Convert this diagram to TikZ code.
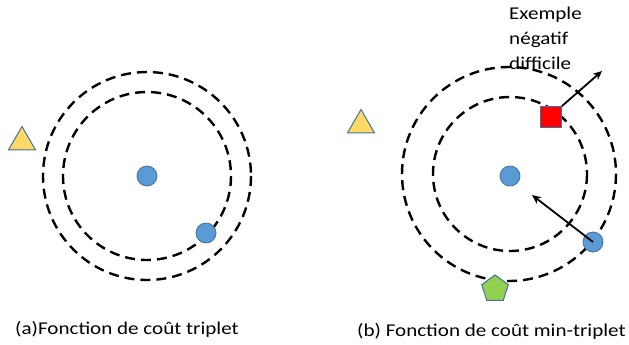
\documentclass[tikz,border=0pt]{standalone}
\usepackage{fontspec}
\setmainfont{Carlito}
\newfontfamily\capfont[FakeStretch=1.17]{Carlito}
\usetikzlibrary{shapes.geometric,arrows.meta}
\definecolor{dotblue}{HTML}{5B9BD5}
\definecolor{edgeblue}{HTML}{41719C}
\definecolor{triyellow}{HTML}{FFD966}
\definecolor{pentgreen}{HTML}{92D050}
\tikzset{
  ring/.style={draw=black, line width=2.4bp, dash pattern=on 10bp off 6bp},
  dot/.style={circle, fill=dotblue, draw=edgeblue, line width=0.8bp, minimum size=20bp, inner sep=0pt},
  tri/.style={regular polygon, regular polygon sides=3, fill=triyellow, draw=edgeblue, line width=1bp, minimum size=31bp, inner sep=0pt},
  pent/.style={regular polygon, regular polygon sides=5, fill=pentgreen, draw=edgeblue, line width=1bp, minimum size=28bp, inner sep=0pt},
  sq/.style={rectangle, fill=red, draw=edgeblue, line width=0.8bp, minimum size=21bp, inner sep=0pt},
  push/.style={draw=black, line width=1.8bp, -{Stealth[length=9bp,width=8bp]}},
  lbl/.style={font=\capfont\fontsize{18bp}{25bp}\selectfont, inner sep=0pt}
}
\begin{document}
\begin{tikzpicture}[x=1bp,y=-1bp]
\useasboundingbox (0,0) rectangle (629,344);
% (a)
\draw[ring] (147,176) circle[radius=104];
\draw[ring] (147,176) circle[radius=84];
\node[dot] (ancA) at (147,176) {};
\node[dot] (posA) at (206,233) {};
\node[tri] (negA) at (22,142) {};
\node[lbl, anchor=west] (capA) at (15,329) {(a)Fonction de coût triplet};
% (b)
\draw[ring] (509,174) circle[radius=107];
\draw[ring] (510,174) circle[radius=77];
\node[dot] (ancB) at (510,176) {};
\node[dot] (posB) at (593,242) {};
\node[tri] (negB) at (361,125) {};
\node[pent] (pentB) at (495,289) {};
\node[sq] (hard) at (551,117) {};
\coordinate (hardtip) at (602,71);
\coordinate (postip) at (532,195);
\draw[push] (hard.north east) -- (hardtip);
\draw[push] (posB.center) -- (postip);
\node[lbl, anchor=north west, align=left] (hardlbl) at (509,7) {Exemple\\négatif\\difficile};
\node[lbl, anchor=west] (capB) at (357,331) {(b) Fonction de coût min-triplet};
\end{tikzpicture}
\end{document}
